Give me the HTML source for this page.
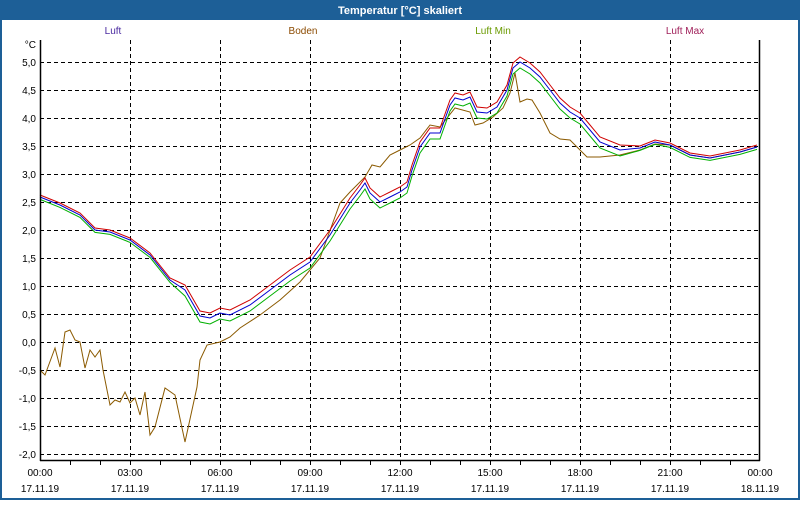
<!DOCTYPE html>
<html><head><meta charset="utf-8"><style>
body{margin:0;width:800px;height:500px;overflow:hidden;background:#fff;font-family:"Liberation Sans",sans-serif}
</style></head><body>
<svg width="800" height="500" xmlns="http://www.w3.org/2000/svg" font-family="Liberation Sans, sans-serif" font-size="10">
<rect x="0" y="0" width="800" height="500" fill="#fff"/>
<rect x="0" y="0" width="800" height="20" fill="#1d5f97"/>
<rect x="0" y="0" width="2" height="500" fill="#1d5f97"/>
<rect x="798" y="0" width="2" height="500" fill="#1d5f97"/>
<rect x="0" y="498" width="800" height="2" fill="#1d5f97"/>
<text x="400" y="14" fill="#fff" font-weight="bold" font-size="11" text-anchor="middle">Temperatur [°C] skaliert</text>
<text x="113" y="34" fill="#4a2aa0" text-anchor="middle">Luft</text>
<text x="303" y="34" fill="#8b4a00" text-anchor="middle">Boden</text>
<text x="493" y="34" fill="#6a9a00" text-anchor="middle">Luft Min</text>
<text x="685" y="34" fill="#a0205a" text-anchor="middle">Luft Max</text>
<g id="grid" stroke="#000" stroke-dasharray="4,3" stroke-width="1"></g>
<g id="labels" fill="#000" font-size="10"></g>
<g id="series" fill="none" stroke-width="1"></g>
<line x1="40.5" y1="40" x2="40.5" y2="461" stroke="#000" stroke-width="1.5"/>
<line x1="40" y1="460.5" x2="760" y2="460.5" stroke="#000" stroke-width="1.5"/>
<line x1="759.5" y1="40" x2="759.5" y2="461" stroke="#000" stroke-width="1.5"/>
<text x="36" y="48" text-anchor="end">°C</text>
</svg>
<script>
const NS="http://www.w3.org/2000/svg";
const g=document.getElementById('grid'),lb=document.getElementById('labels'),sr=document.getElementById('series');
function el(t,a,p,txt){const e=document.createElementNS(NS,t);for(const k in a)e.setAttribute(k,a[k]);if(txt)e.textContent=txt;p.appendChild(e);return e;}
for(let i=0;i<15;i++){const v=5-i*0.5,y=62+i*28;
 el('line',{x1:40,y1:y+.5,x2:760,y2:y+.5},g);
 el('text',{x:36,y:y+4,'text-anchor':'end'},lb,v.toFixed(1).replace('.',','));}
const times=['00:00','03:00','06:00','09:00','12:00','15:00','18:00','21:00','00:00'];
for(let i=0;i<9;i++){const x=40+i*90;
 if(i>0&&i<8)el('line',{x1:x+.5,y1:40,x2:x+.5,y2:460},g);
 el('text',{x:x,y:476,'text-anchor':'middle'},lb,times[i]);
 el('text',{x:x,y:492,'text-anchor':'middle'},lb,i==8?'18.11.19':'17.11.19');}
for(let h=1;h<24;h++){const x=40+h*30;el('line',{x1:x+.5,y1:460,x2:x+.5,y2:465,stroke:'#000'},sr);}
const blue=[[40,197],[60,205],[80,215],[95,230],[110,232],[130,240],[150,255],[170,280],[185,290],[200,316],[210,318],[220,313],[230,315],[250,305],[270,290],[290,275],[310,262],[330,235],[350,203],[360,190],[365,183],[370,193],[380,202],[390,197],[400,192],[407,187],[412,170],[420,147],[430,133],[440,133],[450,105],[455,98],[463,100],[470,97],[477,112],[487,113],[497,107],[507,90],[513,68],[520,62],[530,68],[540,77],[550,90],[560,103],[570,112],[580,118],[590,130],[600,142],[620,150],[640,148],[655,142],[670,145],[690,155],[710,158],[740,152],[757,147]];
const brown=[[40,370],[45,375],[55,348],[60,367],[65,332],[70,330],[75,340],[80,342],[85,368],[90,350],[95,357],[100,350],[103,370],[110,405],[115,400],[120,402],[125,392],[130,403],[135,398],[140,415],[145,392],[150,435],[155,427],[165,388],[175,395],[185,442],[197,387],[200,360],[207,345],[220,342],[230,337],[240,328],[260,315],[280,300],[300,282],[320,258],[340,203],[350,192],[365,177],[372,165],[380,167],[390,155],[400,150],[410,145],[420,138],[430,125],[440,127],[455,108],[470,112],[475,125],[483,123],[493,117],[503,108],[510,93],[515,73],[520,102],[527,99],[532,100],[540,113],[550,133],[560,139],[570,140],[580,150],[587,157],[600,157],[620,155],[640,150],[655,144],[670,145],[690,155],[710,158],[740,152],[757,147]];
function off(pts,d){return pts.map(([x,y])=>{let k=(x>180&&x<640)?1:0.4;return [x,y+d*k];});}
function path(pts,c){el('polyline',{points:pts.map(p=>p.join(',')).join(' '),stroke:c},sr);}
path(brown,'#8b5a00');
path(off(blue,6),'#00b000');
path(off(blue,-5),'#d00000');
path(blue,'#0000d0');
</script>
</body></html>
